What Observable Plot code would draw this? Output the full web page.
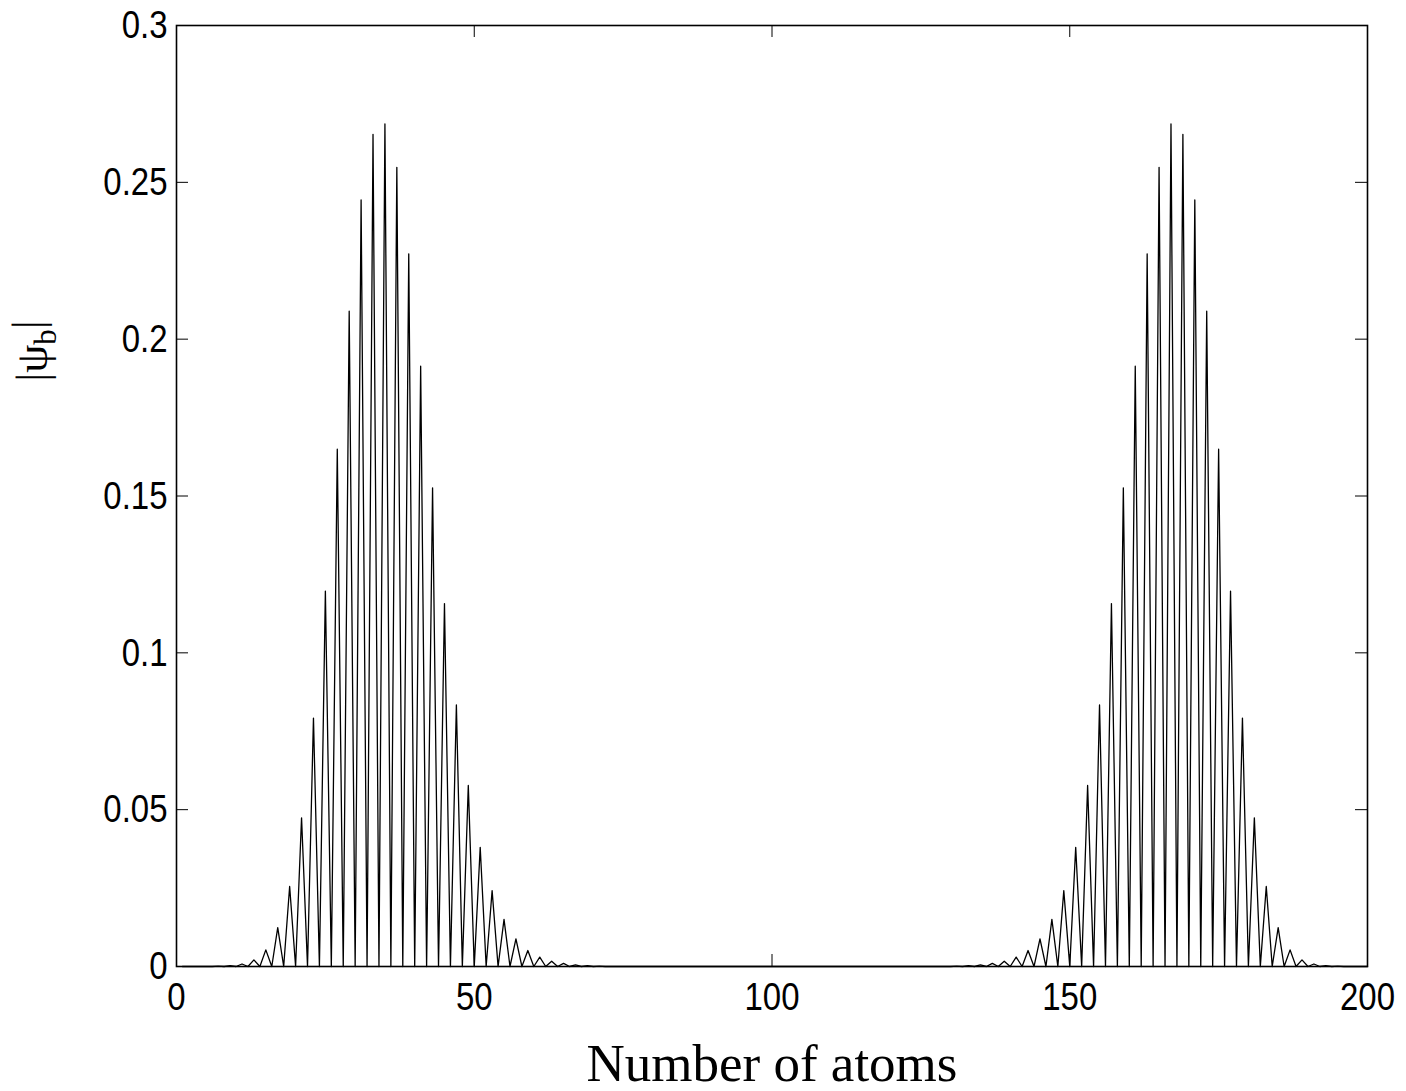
<!DOCTYPE html>
<html><head><meta charset="utf-8">
<script src="https://cdn.jsdelivr.net/npm/d3@7"></script>
<script src="https://cdn.jsdelivr.net/npm/@observablehq/plot@0.6"></script>
<style>body{margin:0;background:#fff}#chart svg{display:block}</style>
</head><body><div id="chart"></div>
<script>
// Peak amplitudes |psi_b| on odd atoms (even atoms are zero)
const leftAtoms = [7,9,11,13,15,17,19,21,23,25,27,29,31,33,35,37,39,41,43,45,47,49,51,53,55,57,59,61,63,65,67,69,71];
const leftValues = [0.0001,0.0003,0.0008,0.0021,0.0053,0.0124,0.0255,0.0474,0.0792,0.1197,0.1649,0.2089,0.2444,0.2653,0.2686,0.2548,0.2272,0.1914,0.1526,0.1157,0.0834,0.0577,0.0380,0.0242,0.0150,0.0088,0.0051,0.0030,0.0017,0.0010,0.0005,0.0003,0.0001];
const rightAtoms = [131,133,135,137,139,141,143,145,147,149,151,153,155,157,159,161,163,165,167,169,171,173,175,177,179,181,183,185,187,189,191,193,195];
const rightValues = [0.0001,0.0003,0.0005,0.0010,0.0017,0.0030,0.0051,0.0088,0.0150,0.0242,0.0380,0.0577,0.0834,0.1157,0.1526,0.1914,0.2272,0.2548,0.2686,0.2653,0.2444,0.2089,0.1649,0.1197,0.0792,0.0474,0.0255,0.0124,0.0053,0.0021,0.0008,0.0003,0.0001];
const firstAtom = 1, lastAtom = 200;
const xTicks = [0,50,100,150,200];
const yTicks = [0,0.05,0.1,0.15,0.2,0.25,0.3];
const xLabel = "Number of atoms";

const peaks = new Map();
leftAtoms.forEach((a,i)=>peaks.set(a,leftValues[i]));
rightAtoms.forEach((a,i)=>peaks.set(a,rightValues[i]));
const series = d3.range(firstAtom, lastAtom + 1).map(n => ({atom: n, psi: peaks.get(n) ?? 0}));

const W = 1406, H = 1091, mL = 176, mR = 39, mT = 25, mB = 125;
const innerW = W - mL - mR, innerH = H - mT - mB;
const tick = 12;
const sans = "'Liberation Sans', Arial, Helvetica, sans-serif";
const serif = "'Liberation Serif', 'Times New Roman', serif";

const plot = Plot.plot({
  width: W, height: H,
  marginLeft: mL, marginRight: mR, marginTop: mT, marginBottom: mB,
  style: {fontFamily: sans, fontSize: "33px", color: "#000", background: "#fff", overflow: "visible"},
  x: {domain: [0, 200]},
  y: {domain: [0, 0.3]},
  marks: [
    Plot.line(series, {x: "atom", y: "psi", stroke: "#000", strokeWidth: 1.3}),
    Plot.tickX(xTicks, {x: d => d, insetTop: innerH - tick, stroke: "#000", strokeWidth: 1}),
    Plot.tickX(xTicks, {x: d => d, insetBottom: innerH - tick, stroke: "#000", strokeWidth: 1}),
    Plot.tickY(yTicks, {y: d => d, insetRight: innerW - tick, stroke: "#000", strokeWidth: 1}),
    Plot.tickY(yTicks, {y: d => d, insetLeft: innerW - tick, stroke: "#000", strokeWidth: 1}),
    Plot.frame({stroke: "#000", strokeWidth: 1.6}),
    Plot.axisX({ticks: xTicks, tickSize: 0, tickPadding: 15, fontSize: 33, label: null, tickFormat: d => String(d)}),
    Plot.axisY({ticks: yTicks, tickSize: 0, tickPadding: 9, fontSize: 33, label: null, tickFormat: d => String(d)}),
    Plot.text([xLabel], {frameAnchor: "bottom", dy: 98, lineAnchor: "middle", fontFamily: serif, fontSize: 53, fill: "#000"})
  ]
});
document.getElementById("chart").appendChild(plot);

const svg = d3.select(plot);
// Tick labels in the reference are slightly taller than wide
svg.selectAll('g[aria-label="x-axis tick label"] text, g[aria-label="y-axis tick label"] text').each(function() {
  let t = this.getAttribute("transform") || "";
  for (const a of ["x", "y"]) {
    const v = this.getAttribute(a);
    if (v != null && /^-?[\d.]+$/.test(v.trim())) {
      t += a === "x" ? ` translate(${v},0)` : ` translate(0,${v})`;
      this.removeAttribute(a);
    }
  }
  this.setAttribute("transform", `${t} scale(1,1.2)`);
});

// Y-axis label |ψ_b| with subscript
const yl = svg.append("text")
  .attr("transform", `translate(47,351) rotate(-90)`)
  .attr("text-anchor", "middle")
  .attr("font-family", serif)
  .attr("font-size", 45)
  .attr("fill", "#000");
yl.append("tspan").text("|ψ");
yl.append("tspan").attr("font-size", 31).attr("dy", "0.3em").text("b");
yl.append("tspan").attr("dy", "-0.3em").text("|");
</script>
</body></html>
